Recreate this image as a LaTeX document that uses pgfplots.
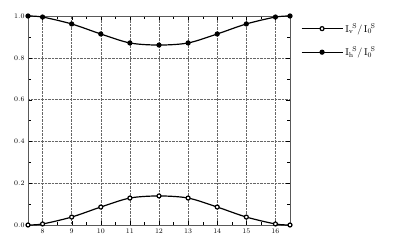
\documentclass[border=0pt]{standalone}
\usepackage{pgfplots}
\pgfplotsset{compat=1.18}
\begin{document}
\begin{tikzpicture}
\begin{axis}[
  scale only axis,
  width=262bp, height=209bp,
  xmin=7.5, xmax=16.5, ymin=0, ymax=1,
  xtick={8,...,16},
  ytick={0,0.2,0.4,0.6,0.8,1.0},
  minor x tick num=1, minor y tick num=1,
  yticklabel style={/pgf/number format/fixed,/pgf/number format/precision=1,/pgf/number format/fixed zerofill},
  tick label style={font=\fontsize{7.5}{8}\selectfont},
  grid=major,
  major grid style={densely dotted, gray!80!black},
  axis line style={gray!70!black, line width=0.8pt},
  tick style={black},
  legend style={at={(1.03,0.985)}, anchor=north west, draw=none, fill=none, font=\fontsize{10}{11}\selectfont, row sep=9pt},
  legend cell align=left,
  legend image code/.code={
    \draw[line width=1.2pt] (0cm,0cm) -- (1.45cm,0cm);
    \draw[#1] plot coordinates {(0.72cm,0cm)};
  },
  clip=false,
]
\addplot[black, line width=1.2pt, smooth, mark=*, mark options={fill=white, scale=1.0}]
coordinates {(7.5,0) (8,0.005) (9,0.038) (10,0.086) (11,0.129) (12,0.139) (13,0.129) (14,0.086) (15,0.038) (16,0.005) (16.5,0)};
\addlegendentry{$\mathrm{I_v}^{\!\mathrm{S}}/\,\mathrm{I_0}^{\!\mathrm{S}}$}
\addplot[black, line width=1.2pt, smooth, mark=*, mark options={fill=black, scale=1.0}]
coordinates {(7.5,1) (8,0.995) (9,0.962) (10,0.914) (11,0.871) (12,0.861) (13,0.871) (14,0.914) (15,0.962) (16,0.995) (16.5,1)};
\addlegendentry{$\mathrm{I_h}^{\!\mathrm{S}}/\,\mathrm{I_0}^{\!\mathrm{S}}$}
\end{axis}
\path ([xshift=-28bp,yshift=-17bp]current axis.south west) rectangle ([xshift=110bp,yshift=16bp]current axis.north east);
\end{tikzpicture}
\end{document}
